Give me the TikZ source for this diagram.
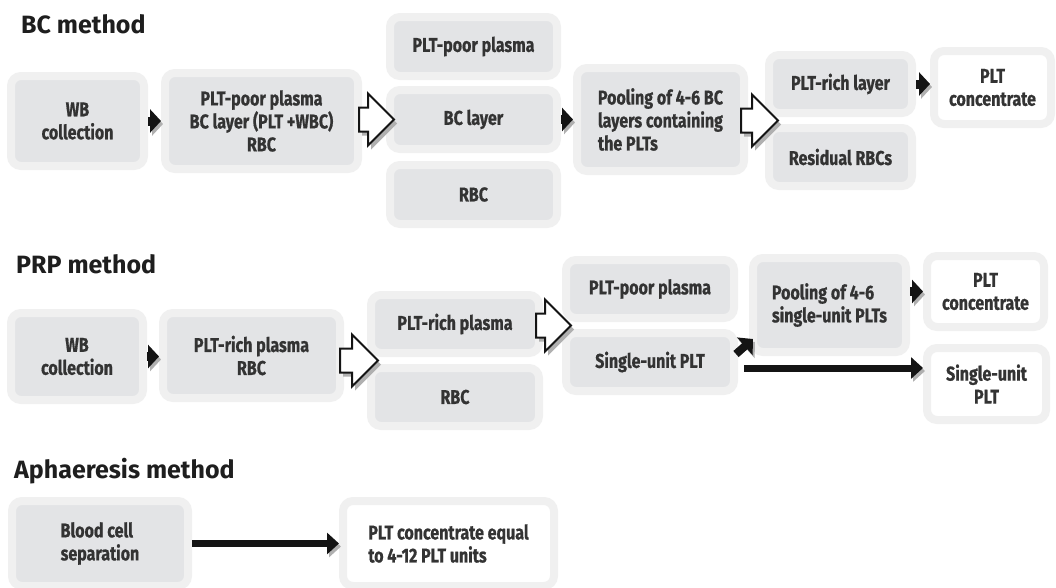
\documentclass[tikz,border=0pt]{standalone}
\usepackage{fontspec}
\setmainfont{Fira Sans}
\newfontfamily\boxfam{Fira Sans}[FakeStretch=0.8, BoldFeatures={FakeBold=0.7}]
\usetikzlibrary{arrows.meta,calc}

\definecolor{ring}{HTML}{F0F0F0}
\definecolor{innergray}{HTML}{E3E4E6}
\definecolor{txt}{HTML}{333333}
\definecolor{headtxt}{HTML}{1E1E1E}
\definecolor{shadowc}{HTML}{B0B0B0}

\tikzset{
  gbox/.style={draw=ring, line width=8pt, fill=innergray, rounded corners=10pt,
    text=txt, font=\boxfam\bfseries\fontsize{20pt}{23pt}\selectfont,
    align=center, inner sep=0pt},
  wbox/.style={gbox, fill=white},
  heading/.style={anchor=base west, inner sep=0pt, text=headtxt,
    font=\bfseries\fontsize{25pt}{30pt}\selectfont},
  blkarrow/.style={line width=9pt, draw=black!92,
    -{Triangle[length=11pt,width=23pt]},
    preaction={draw=shadowc, -{Triangle[length=11pt,width=23pt]},
      transform canvas={shift={(2pt,-3pt)}}}},
  longarrow/.style={line width=7pt, draw=black!92,
    -{Triangle[length=12pt,width=21pt]},
    preaction={draw=shadowc, -{Triangle[length=12pt,width=21pt]},
      transform canvas={shift={(2pt,-3pt)}}}},
  hollowfill/.style={fill=white, draw=black!92, line width=2pt, line join=miter},
  hollowshade/.style={fill=shadowc, transform canvas={shift={(3pt,-4pt)}}},
}

% block arrow from the x of #1 to the point #2 (tip), at the height of #2
\newcommand\hollowarrow[2]{%
  \fill[hollowshade] let \p1=#1, \p2=#2 in
    (\x1,{\y2+12pt}) -- ({\x2-26pt},{\y2+12pt}) -- ({\x2-26pt},{\y2+26pt}) --
    (\x2,\y2) -- ({\x2-26pt},{\y2-26pt}) -- ({\x2-26pt},{\y2-12pt}) --
    (\x1,{\y2-12pt}) -- cycle;
  \draw[hollowfill] let \p1=#1, \p2=#2 in
    (\x1,{\y2+12pt}) -- ({\x2-26pt},{\y2+12pt}) -- ({\x2-26pt},{\y2+26pt}) --
    (\x2,\y2) -- ({\x2-26pt},{\y2-26pt}) -- ({\x2-26pt},{\y2-12pt}) --
    (\x1,{\y2-12pt}) -- cycle;
}

\begin{document}
\begin{tikzpicture}[x=1pt,y=-1pt]
\useasboundingbox[fill=white] (0,0) rectangle (1056,587);

% ---------------- BC method ----------------
\node[heading] (hbc) at (21,33) {BC method};

\node[gbox, minimum width=133pt, minimum height=90pt] (wb1) at (77.5,121) {WB\\collection};
\node[gbox, minimum width=193pt, minimum height=96pt] (sep1) at (261.5,121)
  {PLT-poor plasma\\BC layer (PLT +WBC)\\RBC};
\node[gbox, minimum width=167pt, minimum height=59pt] (ppp1) at (473.5,46.5) {PLT-poor plasma};
\node[gbox, minimum width=167pt, minimum height=59pt] (bcl) at (473.5,119.5) {BC layer};
\node[gbox, minimum width=167pt, minimum height=59pt] (rbc1) at (473.5,194.5) {RBC};
\node[gbox, minimum width=167pt, minimum height=103pt, align=left] (pool1) at (660.5,119.5)
  {Pooling of 4-6 BC\\layers containing\\the PLTs};
\node[gbox, minimum width=143pt, minimum height=58pt] (prl) at (840.5,84) {PLT-rich layer};
\node[gbox, minimum width=143pt, minimum height=58pt] (rrbc) at (840.5,157) {Residual RBCs};
\node[wbox, minimum width=117pt, minimum height=73pt] (pc1) at (992.5,87.5) {PLT\\concentrate};

\draw[blkarrow] (wb1.east) -- (sep1.west);
\hollowarrow{($(sep1.east)+(-3,0)$)}{($(bcl.west)+(8,0)$)}
\draw[blkarrow] (bcl.east) -- (pool1.west);
\hollowarrow{($(pool1.east)+(-7,0)$)}{($(prl.south west)!0.5!(rrbc.north west)+(13,0)$)}
\draw[blkarrow] (prl.east) -- (prl.east -| pc1.west);

% ---------------- PRP method ----------------
\node[heading] (hprp) at (16,273) {PRP method};

\node[gbox, minimum width=132pt, minimum height=87pt] (wb2) at (77,356.5) {WB\\collection};
\node[gbox, minimum width=177pt, minimum height=85pt] (sep2) at (251.5,355.5)
  {PLT-rich plasma\\RBC};
\node[gbox, minimum width=168pt, minimum height=58pt] (prp) at (455,324) {PLT-rich plasma};
\node[gbox, minimum width=168pt, minimum height=58pt] (rbc2) at (455,397) {RBC};
\node[gbox, minimum width=168pt, minimum height=58pt] (ppp2) at (650,289) {PLT-poor plasma};
\node[gbox, minimum width=168pt, minimum height=58pt] (su) at (650,362) {Single-unit PLT};
\node[gbox, minimum width=153pt, minimum height=94pt, align=left] (pool2) at (829.5,305)
  {Pooling of 4-6\\single-unit PLTs};
\node[wbox, minimum width=117pt, minimum height=71pt] (pc2) at (985.5,291.5) {PLT\\concentrate};
\node[wbox, minimum width=119pt, minimum height=72pt] (su2) at (986.5,384) {Single-unit\\PLT};

\draw[blkarrow] (wb2.east) -- (wb2.east -| sep2.west);
\hollowarrow{($(sep2.east)+(-4,0)$)}{($(prp.south west)!0.5!(rbc2.north west)+(11,0)$)}
\hollowarrow{($(prp.east)+(-7,0)$)}{($(ppp2.south west)!0.5!(su.north west)+(9,0)$)}
\draw[blkarrow] (pool2.east |- pc2.west) -- (pc2.west);
\draw[blkarrow, line width=8pt] ($(pool2.south west)+(-13,-2)$) -- ($(pool2.south west)+(4,-17)$);
\coordinate (sustart) at ($(su.east)+(6,6)$);
\draw[longarrow] (sustart) -- (sustart -| su2.west);

% ---------------- Aphaeresis method ----------------
\node[heading] (haph) at (14,478) {Aphaeresis method};

\node[gbox, minimum width=176pt, minimum height=85pt, align=left] (bcs) at (100,543.5)
  {Blood cell\\separation};
\node[wbox, minimum width=211pt, minimum height=85pt, align=left] (pcu) at (448.5,543.5)
  {PLT concentrate equal\\to 4-12 PLT units};
\draw[longarrow] (bcs.east) -- (pcu.west);

\end{tikzpicture}
\end{document}
